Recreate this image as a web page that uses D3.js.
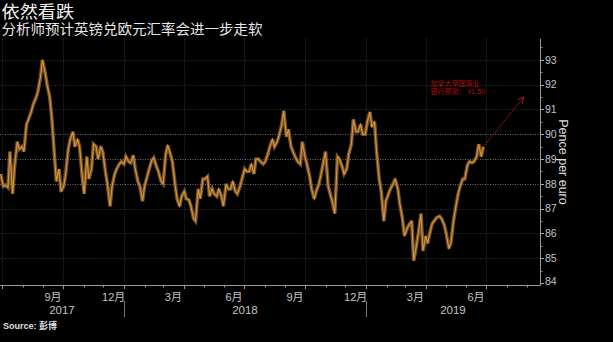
<!DOCTYPE html>
<html>
<head>
<meta charset="utf-8">
<script src="https://cdn.jsdelivr.net/npm/d3@7"></script>
<style>
  html, body { margin: 0; padding: 0; background: #000; }
  svg { display: block; }
</style>
</head>
<body>
<svg id="chart" width="613" height="342"></svg>
<script>
// GBP per EUR, in pence – observations every Monday and Thursday
const seriesStart = "2017-06-29";
const seriesEnd = "2019-06-27";
const pence = [
  88.4, 87.9, 87.95, 87.85, 89.3, 87.6, 88.7, 89.7, 89.4, 89.5,
  89.3, 90.4, 90.6, 90.9, 91.2, 91.45, 91.7, 92.3, 93.0, 92.5,
  92.0, 91.5, 90.7, 89.2, 88.1, 88.6, 87.7, 87.9, 88.4, 89.4,
  89.8, 90.1, 89.5, 89.8, 89.5, 88.3, 87.6, 89.1, 88.2, 88.6,
  89.6, 89.5, 89.0, 89.5, 89.3, 88.5, 88.0, 87.1, 87.9, 88.4,
  88.6, 88.8, 88.9, 88.8, 89.1, 88.9, 88.85, 89.15, 88.6, 88.1,
  87.9, 87.3, 87.9, 88.3, 88.6, 88.95, 89.05, 88.7, 88.5, 88.1,
  88.0, 89.2, 89.55, 89.2, 88.9, 88.0, 87.4, 87.1, 87.5, 87.7,
  87.4, 87.35, 87.1, 86.6, 86.5, 87.8, 87.4, 88.2, 88.2, 88.3,
  87.5, 87.8, 87.6, 87.5, 87.8, 87.5, 87.1, 88.0, 87.8, 87.8,
  88.1, 87.7, 87.6, 87.9, 88.2, 88.6, 88.5, 88.5, 88.8, 88.4,
  89.0, 89.0, 88.9, 88.8, 88.9, 89.2, 89.5, 89.8, 89.5, 89.7,
  89.95, 90.4, 90.95, 89.9, 90.2, 89.5, 89.3, 89.05, 88.9, 88.8,
  89.7, 89.1, 88.8, 88.3, 87.8, 87.4, 87.7, 88.0, 88.35, 88.9,
  89.3, 87.9, 87.6, 87.2, 86.8, 89.1, 89.0, 88.7, 88.4, 88.6,
  89.2, 89.6, 90.6, 90.1, 90.1, 90.4, 90.0, 90.0, 90.5, 90.9,
  90.3, 90.5, 89.3, 88.2, 87.7, 86.5, 87.3, 87.6, 87.8, 88.0,
  88.2, 87.8, 87.2, 86.6, 85.9, 86.2, 86.35, 86.5, 84.9, 85.5,
  86.0, 86.8, 85.3, 85.9, 85.6, 86.1, 86.4, 86.55, 86.65, 86.7,
  86.6, 86.35, 86.0, 85.4, 85.6, 86.5, 87.0, 87.6, 87.9, 88.2,
  88.2, 88.75, 88.9, 88.85, 88.9, 89.1, 89.6, 89.1, 89.5
];

// CIBC forecast
const forecastDate = "2019-08-27";
const forecastValue = 91.5;
const forecastLabel = ["加拿大帝国商业", "银行预测： 91.50"];

const yTicks = [84, 85, 86, 87, 88, 89, 90, 91, 92, 93];
const monthLabels = ["9月", "12月", "3月", "6月", "9月", "12月", "3月", "6月"];
const monthLabelDates = ["2017-09-01", "2017-12-01", "2018-03-01", "2018-06-01",
                         "2018-09-01", "2018-12-01", "2019-03-01", "2019-06-01"];
const yearLabels = ["2017", "2018", "2019"];

const titleText = "依然看跌";
const subtitleText = "分析师预计英镑兑欧元汇率会进一步走软";
const sourceText = "Source: 彭博";
const axisTitle = "Pence per euro";

// ---- drawing ----
const parse = d3.timeParse("%Y-%m-%d");
const svg = d3.select("#chart");
const W = 613, H = 342;
const plotRight = 540, axisY = 285;

svg.append("rect").attr("width", W).attr("height", H).attr("fill", "#000");

const obsDates = d3.timeDay.range(parse(seriesStart), d3.timeDay.offset(parse(seriesEnd), 1))
  .filter(d => d.getDay() === 1 || d.getDay() === 4);
const data = obsDates.map((d, i) => ({ date: d, v: pence[i] }));

const x = d3.scaleTime()
  .domain([parse("2017-06-28"), parse("2019-09-22")])
  .range([0, 541]);
const y = d3.scaleLinear().domain([84, 93.85]).range([283.1, 38.8]);

// Latin face first keeps the line box compact; CJK glyphs fall back to Noto
const cjk = "'Liberation Sans', 'Noto Sans CJK SC', sans-serif";
const latin = "'Liberation Sans', Arial, 'Noto Sans CJK SC', sans-serif";

// horizontal gridlines
svg.append("g").selectAll("line").data(yTicks.filter(t => t > 84)).join("line")
  .attr("x1", 0).attr("x2", plotRight)
  .attr("y1", d => Math.round(y(d)) + 0.5).attr("y2", d => Math.round(y(d)) + 0.5)
  .attr("stroke", d => (d >= 88 && d <= 90) ? "#6e6e6e" : "#333")
  .attr("stroke-width", 1)
  .attr("stroke-dasharray", "1,1.5");

// quarterly vertical gridlines
const quarters = d3.timeMonth.every(3).range(parse("2017-07-01"), parse("2019-07-02"));
svg.append("g").selectAll("line").data(quarters).join("line")
  .attr("x1", d => Math.round(x(d)) + 0.5).attr("x2", d => Math.round(x(d)) + 0.5)
  .attr("y1", y(93.85)).attr("y2", axisY)
  .attr("stroke", "#333")
  .attr("stroke-dasharray", "1,1.5");

// price line: soft band with a finer core
const line = d3.line().x(d => x(d.date)).y(d => y(d.v)).curve(d3.curveLinear);
svg.append("path").datum(data)
  .attr("d", line).attr("fill", "none")
  .attr("stroke", "#8c5f26").attr("stroke-width", 3.6)
  .attr("stroke-linejoin", "miter").attr("stroke-miterlimit", 3)
  .attr("opacity", 0.85);
svg.append("path").datum(data)
  .attr("d", line).attr("fill", "none")
  .attr("stroke", "#d99a48").attr("stroke-width", 1.1)
  .attr("opacity", 0.95);

// forecast arrow
const defs = svg.append("defs");
defs.append("marker").attr("id", "arrowHead")
  .attr("viewBox", "0 0 8 8").attr("refX", 7).attr("refY", 4)
  .attr("markerWidth", 7).attr("markerHeight", 7).attr("orient", "auto")
  .append("path").attr("d", "M0,0.5 L7,4 L0,7.5")
  .attr("fill", "none").attr("stroke", "#b0132e").attr("stroke-width", 1);
const last = data[data.length - 1];
svg.append("line")
  .attr("x1", x(last.date)).attr("y1", y(last.v))
  .attr("x2", x(parse(forecastDate))).attr("y2", y(forecastValue))
  .attr("stroke", "#b0132e").attr("stroke-width", 1)
  .attr("stroke-dasharray", "1.6,0.6")
  .attr("marker-end", "url(#arrowHead)");

svg.append("g").selectAll("text").data(forecastLabel).join("text")
  .attr("x", 430.5).attr("y", (d, i) => 86.2 + i * 8.2)
  .attr("fill", "#b30f0f").attr("font-family", cjk).attr("font-size", 7)
  .text(d => d);

// right axis
svg.append("line").attr("x1", plotRight + 0.5).attr("x2", plotRight + 0.5)
  .attr("y1", y(93.85)).attr("y2", axisY + 0.5).attr("stroke", "#9a9a9a");
const halfTicks = d3.range(84.5, 93.6, 1);
svg.append("g").selectAll("line").data(halfTicks).join("line")
  .attr("x1", plotRight).attr("x2", plotRight + 2.5)
  .attr("y1", d => Math.round(y(d)) + 0.5).attr("y2", d => Math.round(y(d)) + 0.5)
  .attr("stroke", "#8a8a8a");
svg.append("g").selectAll("line").data(yTicks).join("line")
  .attr("x1", plotRight).attr("x2", plotRight + 4)
  .attr("y1", d => Math.round(y(d)) + 0.5).attr("y2", d => Math.round(y(d)) + 0.5)
  .attr("stroke", "#aaa");
svg.append("g").selectAll("text").data(yTicks).join("text")
  .attr("x", plotRight + 5).attr("y", d => d === 84 ? y(d) - 1.5 : y(d))
  .attr("dy", "0.35em")
  .attr("fill", "#c4c4c4").attr("font-family", latin).attr("font-size", 10.5)
  .text(d => d);
svg.append("text")
  .attr("transform", "translate(559,162) rotate(90)")
  .attr("text-anchor", "middle")
  .attr("fill", "#dcdcdc").attr("font-family", latin).attr("font-size", 12.5)
  .text(axisTitle);

// bottom axis
svg.append("line").attr("x1", 0).attr("x2", plotRight + 0.5)
  .attr("y1", axisY + 0.5).attr("y2", axisY + 0.5).attr("stroke", "#9a9a9a");
const months = d3.timeMonth.range(parse("2017-07-01"), parse("2019-09-02"));
svg.append("g").selectAll("line").data(months).join("line")
  .attr("x1", d => Math.round(x(d)) + 0.5).attr("x2", d => Math.round(x(d)) + 0.5)
  .attr("y1", axisY).attr("y2", d => d.getMonth() % 3 === 0 ? axisY + 4 : axisY + 2.5)
  .attr("stroke", "#999");
const years = [parse("2018-01-01"), parse("2019-01-01")];
svg.append("g").selectAll("line").data(years).join("line")
  .attr("x1", d => Math.round(x(d)) + 0.5).attr("x2", d => Math.round(x(d)) + 0.5)
  .attr("y1", 301).attr("y2", 317)
  .attr("stroke", "#777");

svg.append("g").selectAll("text").data(monthLabels).join("text")
  .attr("x", (d, i) => {
    const s = parse(monthLabelDates[i]);
    return (x(s) + x(d3.timeMonth.offset(s, 1))) / 2;
  })
  .attr("y", 300.5).attr("text-anchor", "middle")
  .attr("fill", "#c4c4c4").attr("font-family", cjk).attr("font-size", 11)
  .text(d => d);

const yearSpans = [[0, x(years[0])], [x(years[0]), x(years[1])], [x(years[1]), plotRight]];
svg.append("g").selectAll("text").data(yearLabels).join("text")
  .attr("x", (d, i) => (yearSpans[i][0] + yearSpans[i][1]) / 2)
  .attr("y", 314).attr("text-anchor", "middle")
  .attr("fill", "#c4c4c4").attr("font-family", latin).attr("font-size", 11.5)
  .text(d => d);

// heading
svg.append("text")
  .attr("transform", "translate(1.5,18) scale(1.1,1)")
  .attr("fill", "#f2f2f2").attr("font-family", cjk).attr("font-size", 16.5)
  .text(titleText);
svg.append("text")
  .attr("transform", "translate(1.5,34) scale(1.1,1)")
  .attr("fill", "#e8e8e8").attr("font-family", cjk).attr("font-size", 13.2)
  .text(subtitleText);

svg.append("text").attr("x", 3).attr("y", 328.5)
  .attr("fill", "#e0e0e0").attr("font-family", cjk).attr("font-size", 9)
  .attr("font-weight", "bold")
  .text(sourceText);
</script>
</body>
</html>
